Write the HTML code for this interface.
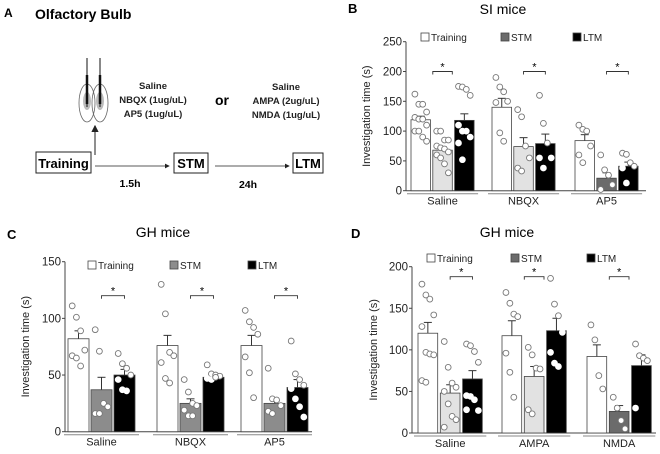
<!DOCTYPE html>
<html><head><meta charset="utf-8">
<style>
html,body{margin:0;padding:0;background:#fff;}
body{width:660px;height:449px;overflow:hidden;font-family:"Liberation Sans",Arial,sans-serif;}
svg text{font-family:"Liberation Sans",Arial,sans-serif;}
</style></head>
<body>
<svg id="fig" width="660" height="449" viewBox="0 0 660 449" xmlns="http://www.w3.org/2000/svg">
<defs>
<marker id="arr" markerWidth="6" markerHeight="6" refX="5" refY="3" orient="auto"><path d="M0,0 L6,3 L0,6 z" fill="#222"/></marker>
</defs>
<g>
<text x="4" y="17" font-size="12" font-weight="bold">A</text>
<text x="35" y="19" font-size="14" font-weight="bold">Olfactory Bulb</text>
<g>
<ellipse cx="87" cy="103" rx="8" ry="19" fill="none" stroke="#666" stroke-width="0.8"/>
<ellipse cx="100" cy="103" rx="8" ry="19" fill="none" stroke="#666" stroke-width="0.8"/>
<ellipse cx="87" cy="101" rx="4" ry="9" fill="#bbb"/>
<ellipse cx="100" cy="101" rx="4" ry="9" fill="#bbb"/>
<line x1="87" y1="58" x2="87" y2="107" stroke="#111" stroke-width="1"/>
<line x1="100" y1="58" x2="100" y2="107" stroke="#111" stroke-width="1"/>
<line x1="87" y1="75" x2="87" y2="104" stroke="#111" stroke-width="2.5"/>
<line x1="100" y1="75" x2="100" y2="104" stroke="#111" stroke-width="2.5"/>
</g>
<g font-size="9.5" font-weight="bold" text-anchor="middle" fill="#222">
<text x="153" y="89">Saline</text>
<text x="153" y="103">NBQX (1ug/uL)</text>
<text x="153" y="117">AP5 (1ug/uL)</text>
<text x="286" y="90">Saline</text>
<text x="286" y="104">AMPA (2ug/uL)</text>
<text x="286" y="118">NMDA (1ug/uL)</text>
</g>
<text x="222" y="105" font-size="14" font-weight="bold" text-anchor="middle">or</text>
<rect x="36" y="152" width="55" height="21" fill="#fff" stroke="#222"/>
<text x="63.5" y="168" font-size="13" font-weight="bold" text-anchor="middle">Training</text>
<rect x="174" y="153" width="34" height="20" fill="#fff" stroke="#222"/>
<text x="191" y="168" font-size="13" font-weight="bold" text-anchor="middle">STM</text>
<rect x="293" y="153" width="30" height="20" fill="#fff" stroke="#222"/>
<text x="308" y="168" font-size="13" font-weight="bold" text-anchor="middle">LTM</text>
<line x1="95" y1="155" x2="95" y2="126" stroke="#444" stroke-width="1.2" marker-end="url(#arr)"/>
<line x1="95" y1="166" x2="169" y2="166" stroke="#222" stroke-width="0.8" marker-end="url(#arr)"/>
<line x1="215" y1="166" x2="289" y2="166" stroke="#222" stroke-width="0.8" marker-end="url(#arr)"/>
<text x="130" y="187" font-size="10.5" font-weight="bold" text-anchor="middle">1.5h</text>
<text x="248" y="188" font-size="10.5" font-weight="bold" text-anchor="middle">24h</text>
</g>
</svg>
<script>
// ---- Panel B data (SI mice) ----
const bGroups = ["Saline","NBQX","AP5"];
const bMeans = [[119,68,118],[140,74,79],[84,21,41]];
const bErrs = [[6,6,11],[15,15,16],[10,9,7]];
const bPoints = [
 [[162,145,145,132,123,120,120,110,100,100,90,83],[100,100,85,85,75,72,70,65,60,55,45,30],[175,174,170,160,110,100,100,90,80,52]],
 [[190,174,166,150,148,97,83],[136,124,75,55,38,33],[160,113,80,55,55,38]],
 [[110,103,100,75,60,47],[60,35,26,10,2],[63,61,47,41,38,13]]
];
const bTicks = [0,50,100,150,200,250];
// ---- Panel C data (GH mice, antagonists) ----
const cGroups = ["Saline","NBQX","AP5"];
const cMeans = [[82,37,50],[76,25,48],[76,25,39]];
const cErrs = [[7,11,5],[9,4,2],[9,5,7]];
const cPoints = [
 [[111,101,89,72,67,65,58],[90,71,25,22,16,16],[69,60,56,50,46,37,36]],
 [[130,104,70,67,61,47,43],[46,35,25,23,19,14,14],[59,51,50,49,47,46,48]],
 [[107,97,92,86,66,52,30],[56,29,28,23,18,16],[80,51,46,41,38,29,22,13]]
];
const cTicks = [0,50,100,150];
// ---- Panel D data (GH mice, agonists) ----
const dGroups = ["Saline","AMPA","NMDA"];
const dMeans = [[120,48,65],[117,68,123],[92,26,81]];
const dErrs = [[13,10,10],[18,12,15],[14,7,13]];
const dPoints = [
 [[179,166,161,142,128,97,95,94,63,61],[110,79,60,55,50,35,20,16,7],[107,105,98,85,45,44,40,27,28]],
 [[169,156,143,140,96,73,43],[103,94,78,77,28,23],[186,155,141,121,97,84,80]],
 [[130,112,69,53],[43,30,15,5],[107,93,90,87,30]]
];
const dTicks = [0,50,100,150,200];

const NS="http://www.w3.org/2000/svg";
const fig=document.getElementById('fig');
function mk(tag,attrs,parent,text){const e=document.createElementNS(NS,tag);for(const k in attrs)e.setAttribute(k,attrs[k]);if(text!==undefined)e.textContent=text;(parent||fig).appendChild(e);return e;}

function panel(cfg){
  const g=mk('g',{});
  
  
  const y=v=>cfg.y0-(v/cfg.max)*(cfg.y0-cfg.yTop);
  const lab=mk('text',{x:cfg.labX,y:cfg.labY,'font-size':13,'font-weight':'bold'},g,cfg.letter);
  
  
  const t=mk('text',{x:cfg.titleX,y:cfg.titleY,'font-size':14,'text-anchor':'middle'},g,cfg.title);
  
  
  const ya=mk('line',{x1:cfg.ax,y1:y(cfg.max),x2:cfg.ax,y2:cfg.y0,stroke:'#444','stroke-width':1},g);
  
  
  const xa=mk('line',{x1:cfg.ax,y1:cfg.y0,x2:cfg.axEnd,y2:cfg.y0,stroke:'#444','stroke-width':1},g);
  
  
  cfg.ticks.forEach(v=>{
    mk('line',{x1:cfg.ax-3,y1:y(v),x2:cfg.ax,y2:y(v),stroke:'#444'},g);
    const tl=mk('text',{x:cfg.ax-4,y:y(v)+4,'font-size':11.5,'text-anchor':'end',fill:'#222'},g,String(v));
    
    
  });
  const yt=mk('text',{x:0,y:0,'font-size':11,'text-anchor':'middle',fill:'#222',transform:`translate(${cfg.ytX},${(y(cfg.max)+cfg.y0)/2}) rotate(-90)`},g,'Investigation time  (s)');
  
  
  const legNames=['Training','STM','LTM'];
  const legFill=['#fff',cfg.legStm,'#000'];
  legNames.forEach((n,i)=>{
    const r=mk('rect',{x:cfg.legX[i],y:cfg.legY-4,width:8,height:8,fill:legFill[i],stroke:'#444','stroke-width':0.8},g);
    
    
    const lt=mk('text',{x:cfg.legX[i]+10,y:cfg.legY+4,'font-size':10,fill:'#222'},g,n);
    
    
  });
  cfg.groups.forEach((gn,gi)=>{
    const gx=cfg.gx[gi];
    for(let s=0;s<3;s++){
      const x=gx+s*(cfg.bw+cfg.gap);
      const m=cfg.means[gi][s], e=cfg.errs[gi][s];
      const fill=s===0?'#fff':(s===2?'#000':cfg.stmFill[gi]);
      const top=y(m+e);
      mk('line',{x1:x+cfg.bw/2,y1:y(m),x2:x+cfg.bw/2,y2:top,stroke:'#333','stroke-width':1},g);
      mk('line',{x1:x+cfg.bw/2-4,y1:top,x2:x+cfg.bw/2+4,y2:top,stroke:'#333','stroke-width':1},g);
      const b=mk('rect',{x:x,y:y(m),width:cfg.bw,height:cfg.y0-y(m),fill:fill,stroke:'#444','stroke-width':0.8},g);
      
      
      const pts=cfg.points[gi][s];
      pts.forEach((v,pi)=>{
        const off=((pi%4)-1.5)*cfg.bw/5;
        const c=mk('circle',{cx:x+cfg.bw/2+off,cy:y(v),r:2.9,fill:'#fff',stroke:(s===2&&v<m)?'#fff':'#777','stroke-width':0.9},g);
        
        
      });
    }
    const gw=3*cfg.bw+2*cfg.gap;
    const ul=mk('line',{x1:gx-4,y1:cfg.y0+3,x2:gx+gw+4,y2:cfg.y0+3,stroke:'#888','stroke-width':1},g);
    
    
    const gl=mk('text',{x:gx+gw/2,y:cfg.y0+14,'font-size':11,'text-anchor':'middle',fill:'#222'},g,gn);
    
    
    const br=cfg.brackets[gi];
    const bx1=gx+br[0]*(cfg.bw+cfg.gap)+cfg.bw/2-(br[0]===br[1]?cfg.bw/2:0);
    const bx2=gx+br[1]*(cfg.bw+cfg.gap)+cfg.bw/2+(br[0]===br[1]?cfg.bw/2:0);
    const by=y(cfg.brY[gi]);
    const p=mk('path',{d:`M${bx1},${by+3} V${by} H${bx2} V${by+3}`,fill:'none',stroke:'#333','stroke-width':0.9},g);
    
    
    const st=mk('text',{x:(bx1+bx2)/2,y:by-1,'font-size':11,'text-anchor':'middle'},g,'*');
    
    
  });
}

panel({name:'panel-b-si-mice',letter:'B',labX:348,labY:13,title:'SI mice',titleX:503,titleY:14,
  ax:406,axEnd:646,y0:190.7,yTop:41.7,max:250,ticks:bTicks,ytX:370,
  legX:[421,501,573],legY:37,legStm:'#6b6b6b',
  groups:bGroups,means:bMeans,errs:bErrs,points:bPoints,
  gx:[411,492,575],bw:19.5,gap:2.3,stmFill:['#e2e2e2','#e2e2e2','#6b6b6b'],
  brackets:[[1,1],[1,2],[1,2]],brY:[200,200,200]});
panel({name:'panel-c-gh-mice-antagonists',letter:'C',labX:7,labY:239,title:'GH mice',titleX:163,titleY:237,
  ax:65,axEnd:312,y0:431.7,yTop:261.7,max:150,ticks:cTicks,ytX:29,
  legX:[88,170,248],legY:265,legStm:'#8c8c8c',
  groups:cGroups,means:cMeans,errs:cErrs,points:cPoints,
  gx:[68,157,241],bw:21,gap:2,stmFill:['#8c8c8c','#8c8c8c','#8c8c8c'],
  brackets:[[1,2],[1,2],[1,2]],brY:[120,120,120]});
panel({name:'panel-d-gh-mice-agonists',letter:'D',labX:351,labY:238,title:'GH mice',titleX:507,titleY:237,
  ax:412,axEnd:656,y0:433,yTop:266.7,max:200,ticks:dTicks,ytX:377,
  legX:[427,511,587],legY:258,legStm:'#6b6b6b',
  groups:dGroups,means:dMeans,errs:dErrs,points:dPoints,
  gx:[418,502,587],bw:19.7,gap:2.6,stmFill:['#e2e2e2','#e2e2e2','#6b6b6b'],
  brackets:[[1,2],[1,1],[1,1]],brY:[188,188,188]});
</script>
</body></html>
